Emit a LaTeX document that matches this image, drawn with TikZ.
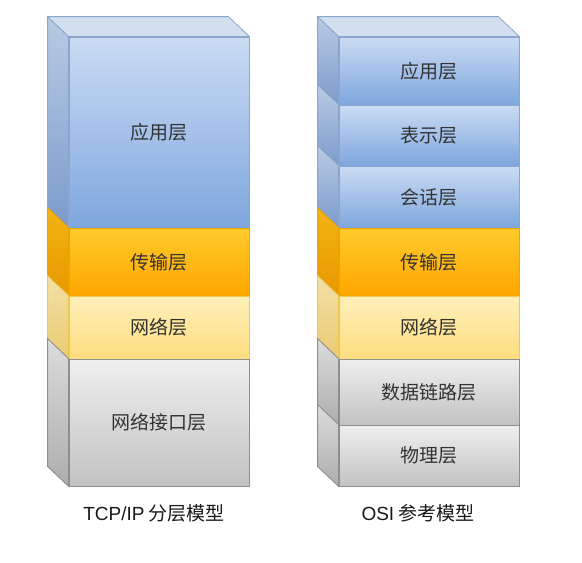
\documentclass[tikz,border=0pt]{standalone}
\usepackage{fontspec}
\setmainfont{Noto Sans CJK SC}
\newfontfamily\latinf{Liberation Sans}
\definecolor{blueT}{HTML}{CADCF3}
\definecolor{blueB}{HTML}{7EA6DE}
\definecolor{blueST}{HTML}{B9CBE3}
\definecolor{blueSB}{HTML}{7A9BCB}
\definecolor{blueD}{HTML}{8AA6CF}
\definecolor{blueTop}{HTML}{D3DFEF}
\definecolor{orT}{HTML}{FFCB2B}
\definecolor{orB}{HTML}{FFA600}
\definecolor{orST}{HTML}{F2B414}
\definecolor{orSB}{HTML}{E89800}
\definecolor{orD}{HTML}{EDA400}
\definecolor{yeT}{HTML}{FFF0BA}
\definecolor{yeB}{HTML}{FDDD7E}
\definecolor{yeST}{HTML}{F2E0A8}
\definecolor{yeSB}{HTML}{EACB70}
\definecolor{yeD}{HTML}{F0C850}
\definecolor{grT}{HTML}{EFEFEF}
\definecolor{grB}{HTML}{C2C2C2}
\definecolor{grST}{HTML}{DCDCDC}
\definecolor{grSB}{HTML}{ADADAD}
\definecolor{grD}{HTML}{8E8E8E}
\definecolor{txt}{HTML}{333333}
\newcommand\mysideface[2]{%
  \filldraw[#2] (#1.north west) -- ([shift={(-21,-20)}]#1.north west)
    -- ([shift={(-21,-20)}]#1.south west) -- (#1.south west) -- cycle;}
\newcommand\mytopface[1]{%
  \filldraw[fill=blueTop, draw=blueD, line width=0.8pt] (#1.north west) -- ([shift={(-21,-20)}]#1.north west)
    -- ([shift={(-21,-20)}]#1.north east) -- (#1.north east) -- cycle;}
\begin{document}
\begin{tikzpicture}[x=1pt,y=-1pt,
  layer/.style={line width=0.8pt, minimum width=180pt, inner sep=0pt,
    font=\fontsize{19}{19}\selectfont, text=txt},
  bluef/.style={layer, top color=blueT, bottom color=blueB, draw=blueD},
  oraf/.style={layer, top color=orT, bottom color=orB, draw=orD},
  yelf/.style={layer, top color=yeT, bottom color=yeB, draw=yeD},
  gryf/.style={layer, top color=grT, bottom color=grB, draw=grD},
  blues/.style={line width=0.8pt, top color=blueST, bottom color=blueSB, draw=blueD},
  oras/.style={line width=0.8pt, top color=orST, bottom color=orSB, draw=orD},
  yels/.style={line width=0.8pt, top color=yeST, bottom color=yeSB, draw=yeD},
  grys/.style={line width=0.8pt, top color=grST, bottom color=grSB, draw=grD},
  caption/.style={font=\fontsize{19}{19}\selectfont, text=black!90}]
\useasboundingbox[fill=white] (0,0) rectangle (582,563);
% TCP/IP stack
\node[bluef, minimum height=191pt] (tapp) at (159,132.5) {应用层};
\node[oraf, minimum height=68pt] (ttra) at (159,262) {传输层};
\node[yelf, minimum height=63pt] (tnet) at (159,327.5) {网络层};
\node[gryf, minimum height=127pt] (tif) at (159,422.5) {网络接口层};
\mysideface{tapp}{blues}
\mysideface{ttra}{oras}
\mysideface{tnet}{yels}
\mysideface{tif}{grys}
\mytopface{tapp}
% OSI stack
\node[bluef, minimum height=68pt] (oapp) at (429,71) {应用层};
\node[bluef, minimum height=61pt] (opre) at (429,135.5) {表示层};
\node[bluef, minimum height=62pt] (oses) at (429,197) {会话层};
\node[oraf, minimum height=68pt] (otra) at (429,262) {传输层};
\node[yelf, minimum height=63pt] (onet) at (429,327.5) {网络层};
\node[gryf, minimum height=66pt] (odl) at (429,392) {数据链路层};
\node[gryf, minimum height=61pt] (ophy) at (429,455.5) {物理层};
\mysideface{oapp}{blues}
\mysideface{opre}{blues}
\mysideface{oses}{blues}
\mysideface{otra}{oras}
\mysideface{onet}{yels}
\mysideface{odl}{grys}
\mysideface{ophy}{grys}
\mytopface{oapp}
% captions
\node[caption] (tcap) at (154,513) {{\latinf TCP/IP} 分层模型};
\node[caption] (ocap) at (418,513) {{\latinf OSI} 参考模型};
\end{tikzpicture}
\end{document}
